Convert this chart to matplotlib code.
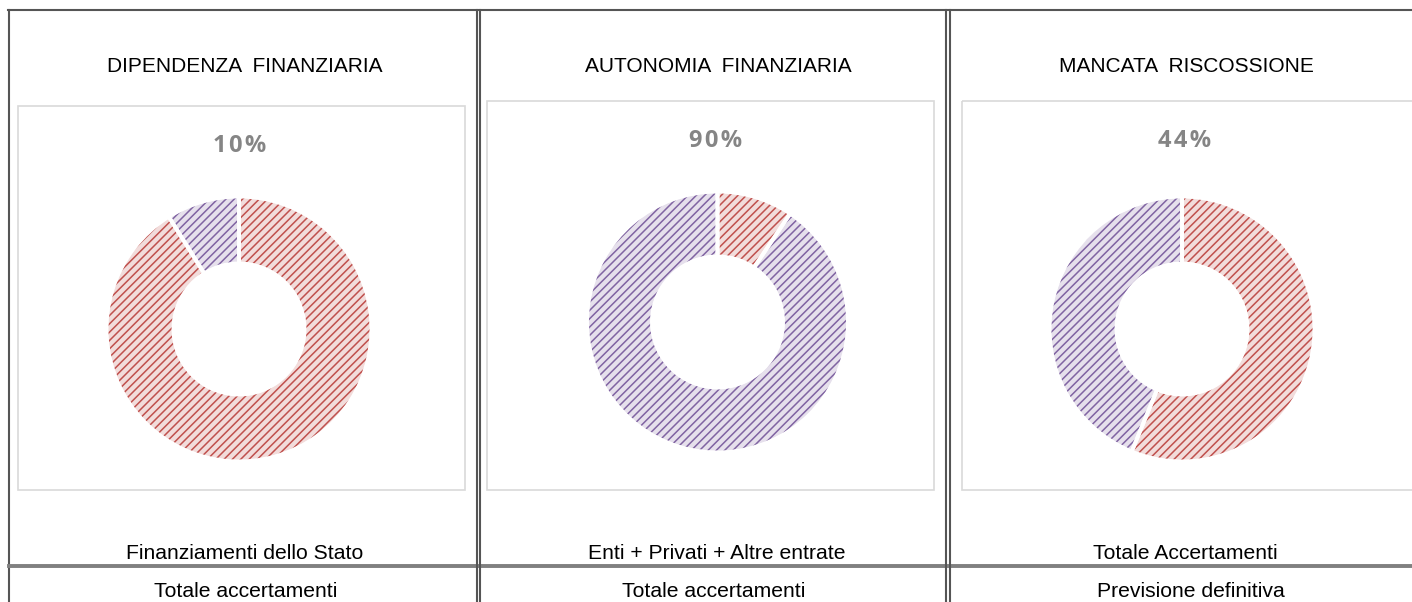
import matplotlib.pyplot as plt
from matplotlib.patches import Rectangle

W, H = 1412, 602

TITLES = ['DIPENDENZA  FINANZIARIA', 'AUTONOMIA  FINANZIARIA', 'MANCATA  RISCOSSIONE']
PCT_LABELS = ['10%', '90%', '44%']
NUMERATORS = ['Finanziamenti dello Stato', 'Enti + Privati + Altre entrate', 'Totale Accertamenti']
DENOMINATORS = ['Totale accertamenti', 'Totale accertamenti', 'Previsione definitiva']
# share of each ring: [red slice, purple slice], clockwise from 12 o'clock
RED_VALUES = [91.1, 9.4, 56.2]
PURPLE_VALUES = [8.9, 90.6, 43.8]

RED_LINE, RED_BG = '#C0504D', '#F2DCDB'
PURPLE_LINE, PURPLE_BG = '#8064A2', '#E6E0EC'
BORDER = '#555555'
BOX = '#D9D9D9'
FONT = 'Liberation Sans'

# pixel layout of the three panels
CENTERS = [(239, 329), (717.5, 322), (1182, 329)]
RADII = [131, 129, 131]
HOLE = 67
BOXES = [(18, 106, 465, 490), (487, 101, 934, 490), (962, 101, 1416, 490)]
TITLE_X = [244.5, 718, 1186]
PCT_X = [240, 716, 1185]
PCT_Y = [152.5, 147, 147]
NUM_X = [244.5, 717, 1185.5]
DEN_X = [245.8, 714, 1191]

plt.rcParams['hatch.linewidth'] = 1.1

fig = plt.figure(figsize=(W / 100, H / 100), dpi=100)
bg = fig.add_axes([0, 0, 1, 1])
bg.set_xlim(0, W)
bg.set_ylim(H, 0)
bg.axis('off')

# table frame
bg.plot([8, W], [10, 10], color=BORDER, lw=1.5)
bg.plot([9, 9], [10, H], color=BORDER, lw=1.5)
bg.plot([9, W], [566, 566], color='#808080', lw=2.8)
for x in (477, 480, 945.5, 949.5):
    bg.plot([x, x], [10, H], color=BORDER, lw=1.5)

for i in range(3):
    x0, y0, x1, y1 = BOXES[i]
    bg.add_patch(Rectangle((x0, y0), x1 - x0, y1 - y0, fill=False, ec=BOX, lw=1.2))
    bg.text(TITLE_X[i], 71.5, TITLES[i], ha='center', va='baseline',
            fontsize=15, family=FONT, color='black')
    bg.text(PCT_X[i], PCT_Y[i], '\u200a'.join(PCT_LABELS[i]), ha='center', va='baseline',
            fontsize=17, family='Open Sans', weight='bold', color='#858585')
    bg.text(NUM_X[i], 559.3, NUMERATORS[i], ha='center', va='baseline',
            fontsize=15.2, family=FONT, color='black')
    bg.text(DEN_X[i], 597, DENOMINATORS[i], ha='center', va='baseline',
            fontsize=15.2, family=FONT, color='black')

    cx, cy = CENTERS[i]
    ax = fig.add_axes([(cx - 150) / W, (H - cy - 150) / H, 300 / W, 300 / H])
    vals = [RED_VALUES[i], PURPLE_VALUES[i]]
    r = RADII[i]
    # light background of the slices
    ax.pie(vals, colors=[RED_BG, PURPLE_BG], startangle=90, counterclock=False,
           radius=r, wedgeprops=dict(width=r - HOLE, lw=0))
    # dense diagonal pattern
    wedges, _ = ax.pie(vals, colors=['none', 'none'], startangle=90, counterclock=False,
                       radius=r, wedgeprops=dict(width=r - HOLE, lw=0))
    for w, c in zip(wedges, [RED_LINE, PURPLE_LINE]):
        w.set_edgecolor(c)
        w.set_hatch('////')
        w.set_linewidth(0)
    # white separators
    ax.pie(vals, colors=['none', 'none'], startangle=90, counterclock=False,
           radius=r + 1.5, wedgeprops=dict(width=r - HOLE + 3, lw=2.8, edgecolor='white'))
    ax.set_xlim(-150, 150)
    ax.set_ylim(-150, 150)
    ax.axis('off')

fig.savefig('out.png', dpi=100)
